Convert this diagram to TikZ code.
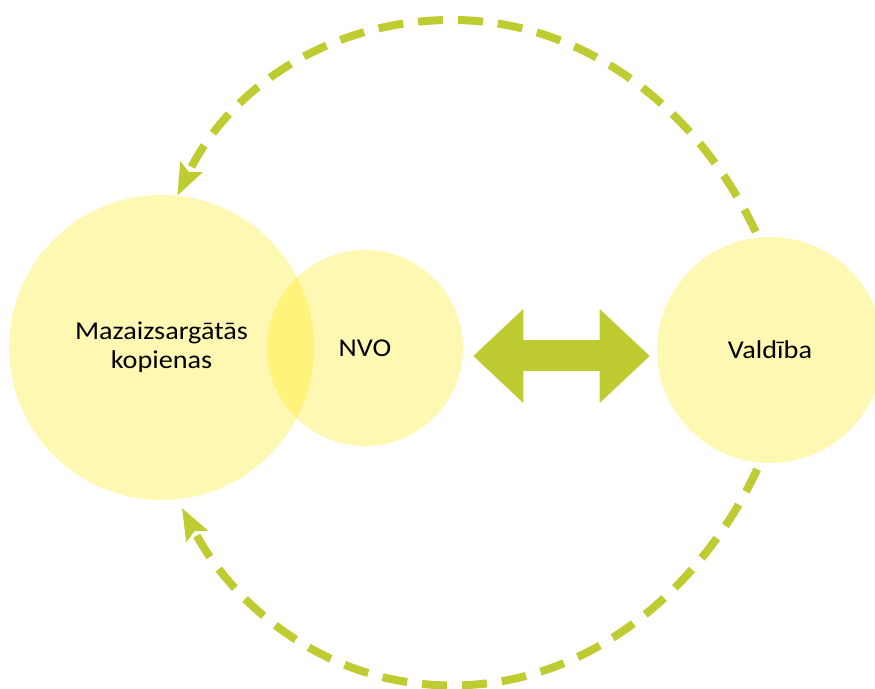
\documentclass[tikz,border=0pt]{standalone}
\usepackage{fontspec}
\newfontfamily\etiqueta{Carlito}[FakeStretch=1.1]
\usetikzlibrary{arrows.meta, positioning}
\definecolor{colorCirculo}{RGB}{255,232,0}
\definecolor{colorFlecha}{HTML}{BECC32}

\begin{document}
\begin{tikzpicture}[x=0.02cm, y=0.02cm,
        grupa/.style={circle, fill=colorCirculo, fill opacity=0.3, text opacity=1, inner sep=0pt,
            align=center, font=\etiqueta\fontsize{14.6}{16.6}\selectfont},
        saite/.style={colorFlecha, line width=0.62cm,
            >={Triangle[length=1cm, width=1.88cm, line width=0pt]}, <->},
        cikls/.style={colorFlecha, line width=0.16cm, dash pattern=on 0.5cm off 0.3cm,
            >={Stealth[length=0.64cm, width=0.5cm, inset=0.12cm, line width=0pt]}, ->}
    ]
        \useasboundingbox (0,0) rectangle (875,689);
        \node[grupa, minimum size=6.1cm] (kop) at (161.5,341.5) {Mazaizsargātās\\kopienas};
        \node[grupa, minimum size=3.92cm] (nvo) at (365,341) {NVO};
        \node[grupa, minimum size=4.52cm] (val) at (770,339) {Valdība};
        \coordinate (mid) at (561,333);
        \coordinate (cima) at (452,669);
        \coordinate (fondo) at (452,3.5);

        \draw[saite, shorten <=0.2cm, shorten >=0.14cm] (nvo.east |- mid) -- (val.west |- mid);
        \draw[cikls, shorten <=0.12cm] (val.96) to[out=115, in=0, looseness=0.93] (cima)
            to[out=180, in=64, looseness=0.95] (kop.84);
        \draw[cikls, shorten <=0.14cm, shorten >=0.2cm] (val.265) to[out=245, in=0, looseness=0.93] (fondo)
            to[out=180, in=298, looseness=0.95] (kop.276);
    \end{tikzpicture}
\end{document}
